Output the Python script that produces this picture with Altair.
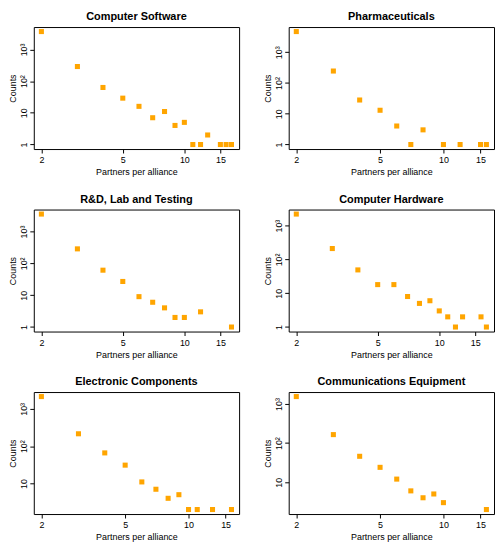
import math
import altair as alt
import pandas as pd

# Data (partners per alliance vs counts)
cs_x = [2, 3, 4, 5, 6, 7, 8, 9, 10, 11, 12, 13, 15, 16, 17]
cs_y = [3650, 288, 63, 29, 16, 7, 11, 4, 5, 1, 1, 2, 1, 1, 1]

ph_x = [2, 3, 4, 5, 6, 7, 8, 10, 12, 15, 16]
ph_y = [4700, 245, 28, 13, 4, 1, 3, 1, 1, 1, 1]

rd_x = [2, 3, 4, 5, 6, 7, 8, 9, 10, 12, 17]
rd_y = [3530, 285, 61, 27, 9, 6, 4, 2, 2, 3, 1]

hw_x = [2, 3, 4, 5, 6, 7, 8, 9, 10, 11, 12, 13, 16, 17]
hw_y = [2200, 210, 49, 18, 18, 8, 5, 6, 3, 2, 1, 2, 2, 1]

ec_x = [2, 3, 4, 5, 6, 7, 8, 9, 10, 11, 13, 16]
ec_y = [2140, 215, 66, 31, 11, 7, 4, 5, 2, 2, 2, 2]

ce_x = [2, 3, 4, 5, 6, 7, 8, 9, 10, 16]
ce_y = [1550, 165, 46, 24, 12, 6, 4, 5, 3, 2]

titles = ["Computer Software", "Pharmaceuticals", "R&D, Lab and Testing",
          "Computer Hardware", "Electronic Components", "Communications Equipment"]
xs_all = [cs_x, ph_x, rd_x, hw_x, ec_x, ce_x]
ys_all = [cs_y, ph_y, rd_y, hw_y, ec_y, ce_y]

x_ticks = [2, 5, 10, 15]
y_ticks = [1, 10, 100, 1000]

FONT = "Liberation Sans"
W, H = 207, 123


def ext(lo, hi):
    f = (hi / lo) ** 0.04
    return [lo / f, hi * f]


def panel(title, xs, ys):
    df = pd.DataFrame({"x": xs, "y": ys})
    xd = ext(min(xs), max(xs))
    yd = ext(min(ys), max(ys))
    yv = [v for v in y_ticks if yd[0] <= v <= yd[1]]
    return alt.Chart(df, title=alt.Title(title, fontSize=11, fontWeight="bold",
                                         font=FONT, offset=5)).mark_square(
        size=26, color="#FFA500", opacity=1
    ).encode(
        x=alt.X("x:Q", scale=alt.Scale(type="log", domain=xd, nice=False),
                axis=alt.Axis(values=x_ticks, title="Partners per alliance",
                              labelPadding=3, titlePadding=3,
                              labelExpr="datum.value + ''")),
        y=alt.Y("y:Q", scale=alt.Scale(type="log", domain=yd, nice=False),
                axis=alt.Axis(values=yv, title="Counts", labelAngle=270,
                              labelAlign="center", labelBaseline="bottom",
                              labelPadding=1, titlePadding=2,
                              labelExpr="datum.value == 1 ? '1' : datum.value == 10 ? '10' : datum.value == 100 ? '10²' : '10³'")),
    ).properties(width=W, height=H)


charts = [panel(t, x, y) for t, x, y in zip(titles, xs_all, ys_all)]

chart = alt.concat(*charts, columns=2, spacing={"row": 15, "column": 23}).properties(
    padding=0
).configure_view(
    stroke="black", strokeWidth=1
).configure_axis(
    grid=False, domain=False, ticks=True, tickColor="black", tickSize=4,
    labelFont=FONT, labelFontSize=9, labelColor="black",
    titleFont=FONT, titleFontSize=9, titleFontWeight="normal", titleColor="black"
).configure_title(anchor="middle", color="black")

chart.save("out.html", embed_options={"renderer": "svg", "actions": False})
